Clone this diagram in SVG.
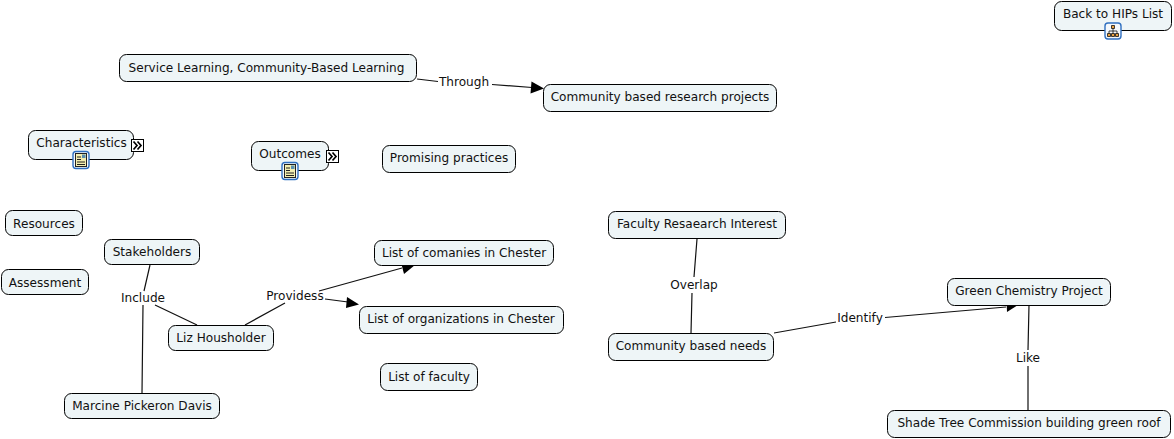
<svg xmlns="http://www.w3.org/2000/svg" width="1174" height="439" viewBox="0 0 1174 439">
<style>
.n{fill:#eef5f7;stroke:#000;stroke-width:1}
text{font-family:"DejaVu Sans",Verdana,sans-serif;font-size:12.1px;fill:#111;text-anchor:middle}
.c{fill:none;stroke:#111;stroke-width:1.2}
.ah{fill:#000;stroke:none}
.exp{fill:#fff;stroke:#000;stroke-width:1}
.chev{fill:none;stroke:#000;stroke-width:1.7}
.ib{fill:#f4f8fc;stroke:#2f6fc0;stroke-width:1.4}
.doc{fill:#f3eeb0;stroke:#222;stroke-width:1}
</style>
<defs>
<g id="docicon">
<rect class="ib" x="-8" y="-8.500" width="16" height="17" rx="3"/>
<rect class="doc" x="-5.500" y="-6.500" width="11" height="13"/>
<path d="M-4-3h4M-4-.5h4M-4 2h8M-4 4.500h8" stroke="#222" fill="none"/>
<rect x="1" y="-5.500" width="3.500" height="3.500" fill="#5a8fb0"/>
</g>
<g id="expand">
<rect class="exp" x=".5" y=".5" width="12" height="12"/>
<path class="chev" d="M2.500 2.500l3.500 4-3.500 4M6.500 2.500l3.500 4-3.500 4"/>
</g>
</defs>
<g id="connectors">
<path class="c" d="M417 79L438 81.500M492 84.500L532 87.500"/>
<path class="ah" d="M544 88.500L531.500 81.500L530.500 93.500Z"/>
<path class="c" d="M150 265L144 291M143 305L142 393M155 305L197 325"/>
<path class="c" d="M245 325L285 303M319 291L402 268"/>
<path class="ah" d="M415 265L401 262.500L404 274Z"/>
<path class="c" d="M325 299L348 302"/>
<path class="ah" d="M359 304.500L347 297L346 308Z"/>
<path class="c" d="M697 239L694 277M692 293L691 333"/>
<path class="c" d="M774 333L836 322M885 317.500L1006 307"/>
<path class="ah" d="M1018 305L1006.500 301L1007 312Z"/>
<path class="c" d="M1029 305L1028 350M1028 366L1028 410"/>
</g>
<g id="n-back"><rect class="n" x="1054.500" y="1.500" width="117" height="29" rx="7"/><text x="1113" y="18">Back to HIPs List</text>
<g transform="translate(1113 31)"><rect class="ib" x="-8" y="-8" width="16" height="16" rx="3"/><path d="M-1.500-5.500h3v3h-3zM-5.500 2.500h3v3h-3zM-1.500 2.500h3v3h-3zM2.500 2.500h3v3h-3z" fill="#e8a040" stroke="#111" stroke-width=".8"/><path d="M0-2.500V2.500M-4 2.500V0H4V2.500" fill="none" stroke="#111" stroke-width=".8"/></g></g>
<g id="n-service"><rect class="n" x="119.500" y="54.500" width="297" height="27" rx="7"/><text x="266.500" y="72">Service Learning, Community-Based Learning</text></g>
<g id="n-cbrp"><rect class="n" x="543.500" y="84.500" width="233" height="27" rx="7"/><text x="660" y="101">Community based research projects</text></g>
<g id="n-char"><rect class="n" x="28.500" y="130.500" width="105" height="29" rx="7"/><text x="81.500" y="147">Characteristics</text><use href="#expand" x="131" y="139"/><use href="#docicon" x="81" y="160"/></g>
<g id="n-out"><rect class="n" x="251.500" y="141.500" width="77" height="29" rx="7"/><text x="290" y="158">Outcomes</text><use href="#expand" x="326" y="150"/><use href="#docicon" x="290" y="171"/></g>
<g id="n-prom"><rect class="n" x="382.500" y="145.500" width="133" height="27" rx="7"/><text x="449" y="162">Promising practices</text></g>
<g id="n-res"><rect class="n" x="5.500" y="210.500" width="77" height="25" rx="7"/><text x="44" y="228">Resources</text></g>
<g id="n-ass"><rect class="n" x="1.500" y="269.500" width="87" height="25" rx="7"/><text x="45" y="287">Assessment</text></g>
<g id="n-stake"><rect class="n" x="104.500" y="239.500" width="95" height="25" rx="7"/><text x="152" y="256">Stakeholders</text></g>
<g id="n-liz"><rect class="n" x="168.500" y="325.500" width="105" height="25" rx="7"/><text x="221" y="342">Liz Housholder</text></g>
<g id="n-marc"><rect class="n" x="64.500" y="393.500" width="155" height="25" rx="7"/><text x="142" y="410">Marcine Pickeron Davis</text></g>
<g id="n-comp"><rect class="n" x="374.500" y="240.500" width="179" height="25" rx="7"/><text x="464" y="257">List of comanies in Chester</text></g>
<g id="n-org"><rect class="n" x="359.500" y="306.500" width="204" height="27" rx="7"/><text x="461" y="323">List of organizations in Chester</text></g>
<g id="n-fac"><rect class="n" x="380.500" y="363.500" width="97" height="27" rx="7"/><text x="429" y="381">List of faculty</text></g>
<g id="n-fri"><rect class="n" x="608.500" y="211.500" width="177" height="27" rx="7"/><text x="697" y="228">Faculty Resaearch Interest</text></g>
<g id="n-cbn"><rect class="n" x="608.500" y="333.500" width="165" height="27" rx="7"/><text x="691" y="350">Community based needs</text></g>
<g id="n-green"><rect class="n" x="947.500" y="278.500" width="163" height="27" rx="7"/><text x="1029" y="295">Green Chemistry Project</text></g>
<g id="n-shade"><rect class="n" x="887.500" y="410.500" width="283" height="27" rx="7"/><text x="1029" y="427">Shade Tree Commission building green roof</text></g>
<g id="labels">
<text x="464" y="86">Through</text>
<text x="143" y="302">Include</text>
<text x="295" y="300">Providess</text>
<text x="694" y="289">Overlap</text>
<text x="860" y="322">Identify</text>
<text x="1028" y="362">Like</text>
</g>
</svg>
